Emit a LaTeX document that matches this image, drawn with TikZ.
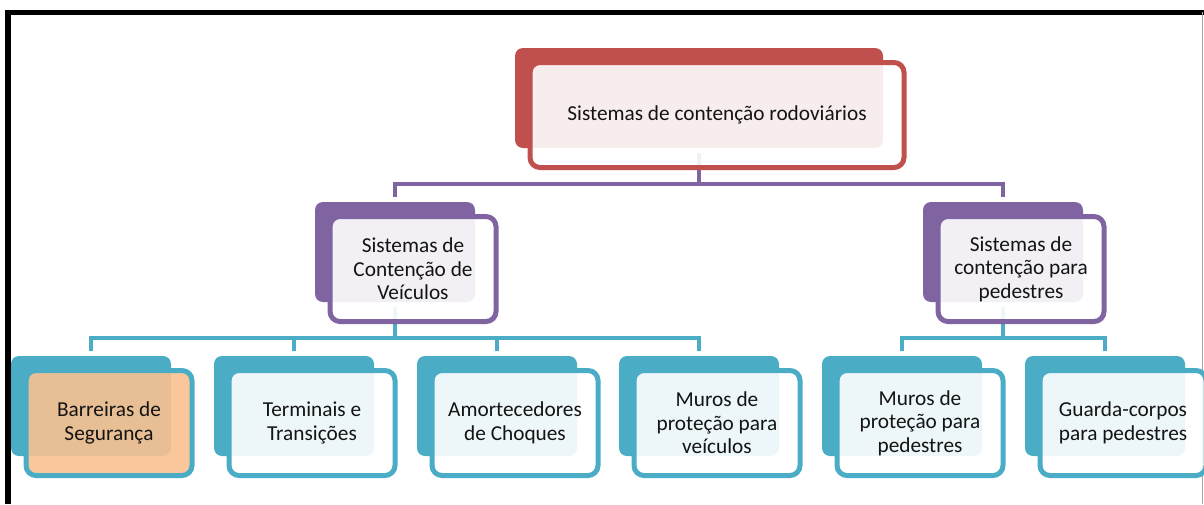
\documentclass[tikz,border=0pt]{standalone}
\usepackage{fontspec}
\setmainfont{Carlito}
\definecolor{redacc}{HTML}{C0504D}
\definecolor{purpacc}{HTML}{8064A2}
\definecolor{blueacc}{HTML}{4BACC6}
\definecolor{orangefill}{HTML}{FAC090}
\definecolor{txt}{HTML}{141414}
\begin{document}
\begin{tikzpicture}[x=1pt,y=-1pt,
  back/.style={rounded corners=8pt, minimum width=160pt, minimum height=100pt, inner sep=0pt},
  front/.style={draw, line width=5pt, rounded corners=10pt, minimum width=166pt, minimum height=105pt,
    fill=white, fill opacity=0.9, text opacity=1, align=center, inner sep=0pt, text=txt,
    font=\fontsize{21.3}{23.5}\selectfont},
  link/.style={line width=4.5pt}]
\useasboundingbox (0,0) rectangle (1204,504);
\clip (0,0) rectangle (1204,504);
% frame
\draw[line width=5.5pt, black] (8,504) -- (8,12.4) -- (1204,12.4);
\draw[gray!70, line width=1pt] (1202.5,12.4) -- (1202.5,504);
% back shapes
\node[back,fill=redacc,minimum width=368pt] (S0) at (699,98) {};
\node[back,fill=purpacc] (S1) at (395,252) {};
\node[back,fill=purpacc] (S2) at (1003,252) {};
\node[back,fill=blueacc] (S3) at (91,406) {};
\node[back,fill=blueacc] (S4) at (294,406) {};
\node[back,fill=blueacc] (S5) at (497,406) {};
\node[back,fill=blueacc] (S6) at (699,406) {};
\node[back,fill=blueacc] (S7) at (902,406) {};
\node[back,fill=blueacc] (S8) at (1105,406) {};
% connectors
\draw[link,purpacc] ([yshift=-5pt]S0.south) |- ([yshift=18pt]S1.north) -- ([yshift=5pt]S1.north);
\draw[link,purpacc] ([yshift=-5pt]S0.south) |- ([yshift=18pt]S2.north) -- ([yshift=5pt]S2.north);
\draw[link,blueacc] ([yshift=-5pt]S1.south) |- ([yshift=18pt]S3.north) -- ([yshift=5pt]S3.north);
\draw[link,blueacc] ([yshift=-5pt]S1.south) |- ([yshift=18pt]S4.north) -- ([yshift=5pt]S4.north);
\draw[link,blueacc] ([yshift=-5pt]S1.south) |- ([yshift=18pt]S5.north) -- ([yshift=5pt]S5.north);
\draw[link,blueacc] ([yshift=-5pt]S1.south) |- ([yshift=18pt]S6.north) -- ([yshift=5pt]S6.north);
\draw[link,blueacc] ([yshift=-5pt]S2.south) |- ([yshift=18pt]S7.north) -- ([yshift=5pt]S7.north);
\draw[link,blueacc] ([yshift=-5pt]S2.south) |- ([yshift=18pt]S8.north) -- ([yshift=5pt]S8.north);
% front boxes with the texts
\node[front,draw=redacc,minimum width=374pt] (T0) at (717,115) {Sistemas de contenção rodoviários};
\node[front,draw=purpacc] (T1) at (413,269) {Sistemas de\\Contenção de\\Veículos};
\node[front,draw=purpacc] (T2) at (1021,269) {Sistemas de\\contenção para\\pedestres};
\node[front,draw=blueacc,fill=orangefill] (T3) at (109,423) {Barreiras de\\Segurança};
\node[front,draw=blueacc] (T4) at (312,423) {Terminais e\\Transições};
\node[front,draw=blueacc] (T5) at (515,423) {Amortecedores\\de Choques};
\node[front,draw=blueacc] (T6) at (717,423) {Muros de\\proteção para\\veículos};
\node[front,draw=blueacc] (T7) at (920,423) {Muros de\\proteção para\\pedestres};
\node[front,draw=blueacc] (T8) at (1123,423) {Guarda-corpos\\para pedestres};
\end{tikzpicture}
\end{document}
